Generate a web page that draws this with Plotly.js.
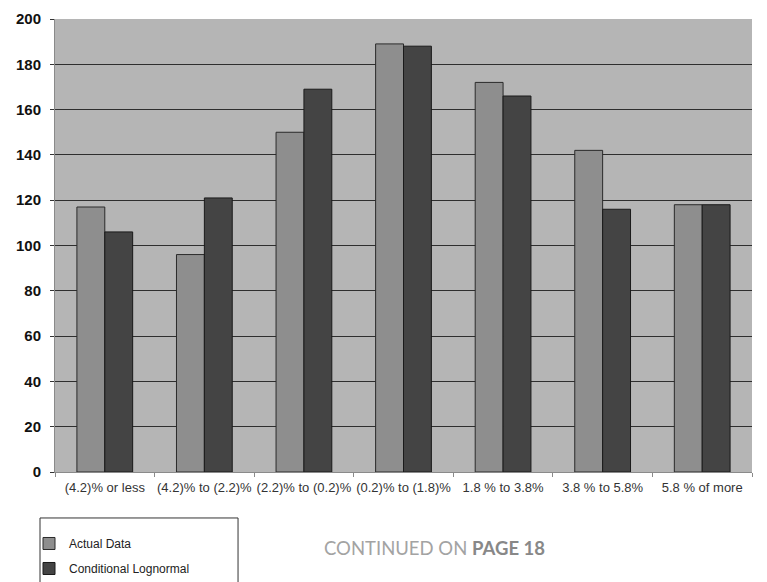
<!DOCTYPE html>
<html>
<head>
<meta charset="utf-8">
<script src="https://cdn.plot.ly/plotly-3.0.1.min.js"></script>
<style>html,body{margin:0;padding:0;background:#fff;}#chart{width:767px;height:582px;}</style>
</head>
<body>
<div id="chart"></div>
<script>
const categories = ["(4.2)% or less", "(4.2)% to (2.2)%", "(2.2)% to (0.2)%", "(0.2)% to (1.8)%", "1.8 % to 3.8%", "3.8 % to 5.8%", "5.8 % of more"];
const actualData = [117, 96, 150, 189, 172, 142, 118];
const conditionalLognormal = [106, 121, 169, 188, 166, 116, 118];
const yTicks = [0, 20, 40, 60, 80, 100, 120, 140, 160, 180, 200];

const traces = [
  {type: "bar", name: "Actual Data", x: categories, y: actualData, legendgroup: "a",
   marker: {color: "#8e8e8e", line: {color: "#2a2a2a", width: 1}}},
  {type: "bar", name: "Conditional Lognormal", x: categories, y: conditionalLognormal, legendgroup: "b",
   marker: {color: "#444444", line: {color: "#1a1a1a", width: 1}}}
];

const layout = {
  width: 767, height: 582,
  margin: {l: 55, r: 15, t: 19, b: 110, autoexpand: false},
  paper_bgcolor: "#ffffff",
  plot_bgcolor: "#b5b5b5",
  barmode: "group",
  bargap: 0.44,
  bargroupgap: 0,
  font: {family: "Liberation Sans, Arial, sans-serif", color: "#333"},
  xaxis: {
    type: "category",
    showgrid: false,
    showline: true, linecolor: "#8a8a8a", linewidth: 1,
    ticks: "outside", tickson: "boundaries", ticklen: 4, tickcolor: "#8a8a8a",
    tickangle: 0,
    ticklabelstandoff: 3,
    tickfont: {family: "Liberation Sans, Arial, sans-serif", size: 13, color: "#333"},
    zeroline: false
  },
  yaxis: {
    range: [0, 200],
    tickvals: yTicks,
    showgrid: true, gridcolor: "#2e2e2e", gridwidth: 1,
    showline: true, linecolor: "#8a8a8a", linewidth: 1,
    ticks: "outside", ticklen: 4, tickcolor: "#333",
    ticklabelstandoff: 6,
    tickfont: {family: "Liberation Sans, Arial, sans-serif", size: 15, color: "#111", weight: "bold"},
    zeroline: false
  },
  showlegend: true,
  legend: {
    x: -0.0373, y: -0.1258, xanchor: "left", yanchor: "top",
    borderwidth: 0, bgcolor: "rgba(0,0,0,0)",
    traceorder: "grouped", tracegroupgap: 6,
    font: {family: "Liberation Sans, Arial, sans-serif", size: 12, color: "#222"},
    itemclick: false
  },
  shapes: [{
    type: "rect", xref: "paper", yref: "paper",
    x0: -0.0215, x1: 0.2626, y0: -0.1015, y1: -0.30,
    line: {color: "#333", width: 1}, fillcolor: "rgba(0,0,0,0)"
  }],
  annotations: [{
    xref: "paper", yref: "paper", x: 0.545, y: -0.168,
    xanchor: "center", yanchor: "middle", showarrow: false,
    text: "CONTINUED ON <b><span style='color:#888'>PAGE 18</span></b>",
    font: {family: "Lato, Open Sans, sans-serif", size: 18.5, color: "#a3a3a3"}
  }]
};

Plotly.newPlot("chart", traces, layout, {displayModeBar: false, staticPlot: true});
</script>
</body>
</html>
